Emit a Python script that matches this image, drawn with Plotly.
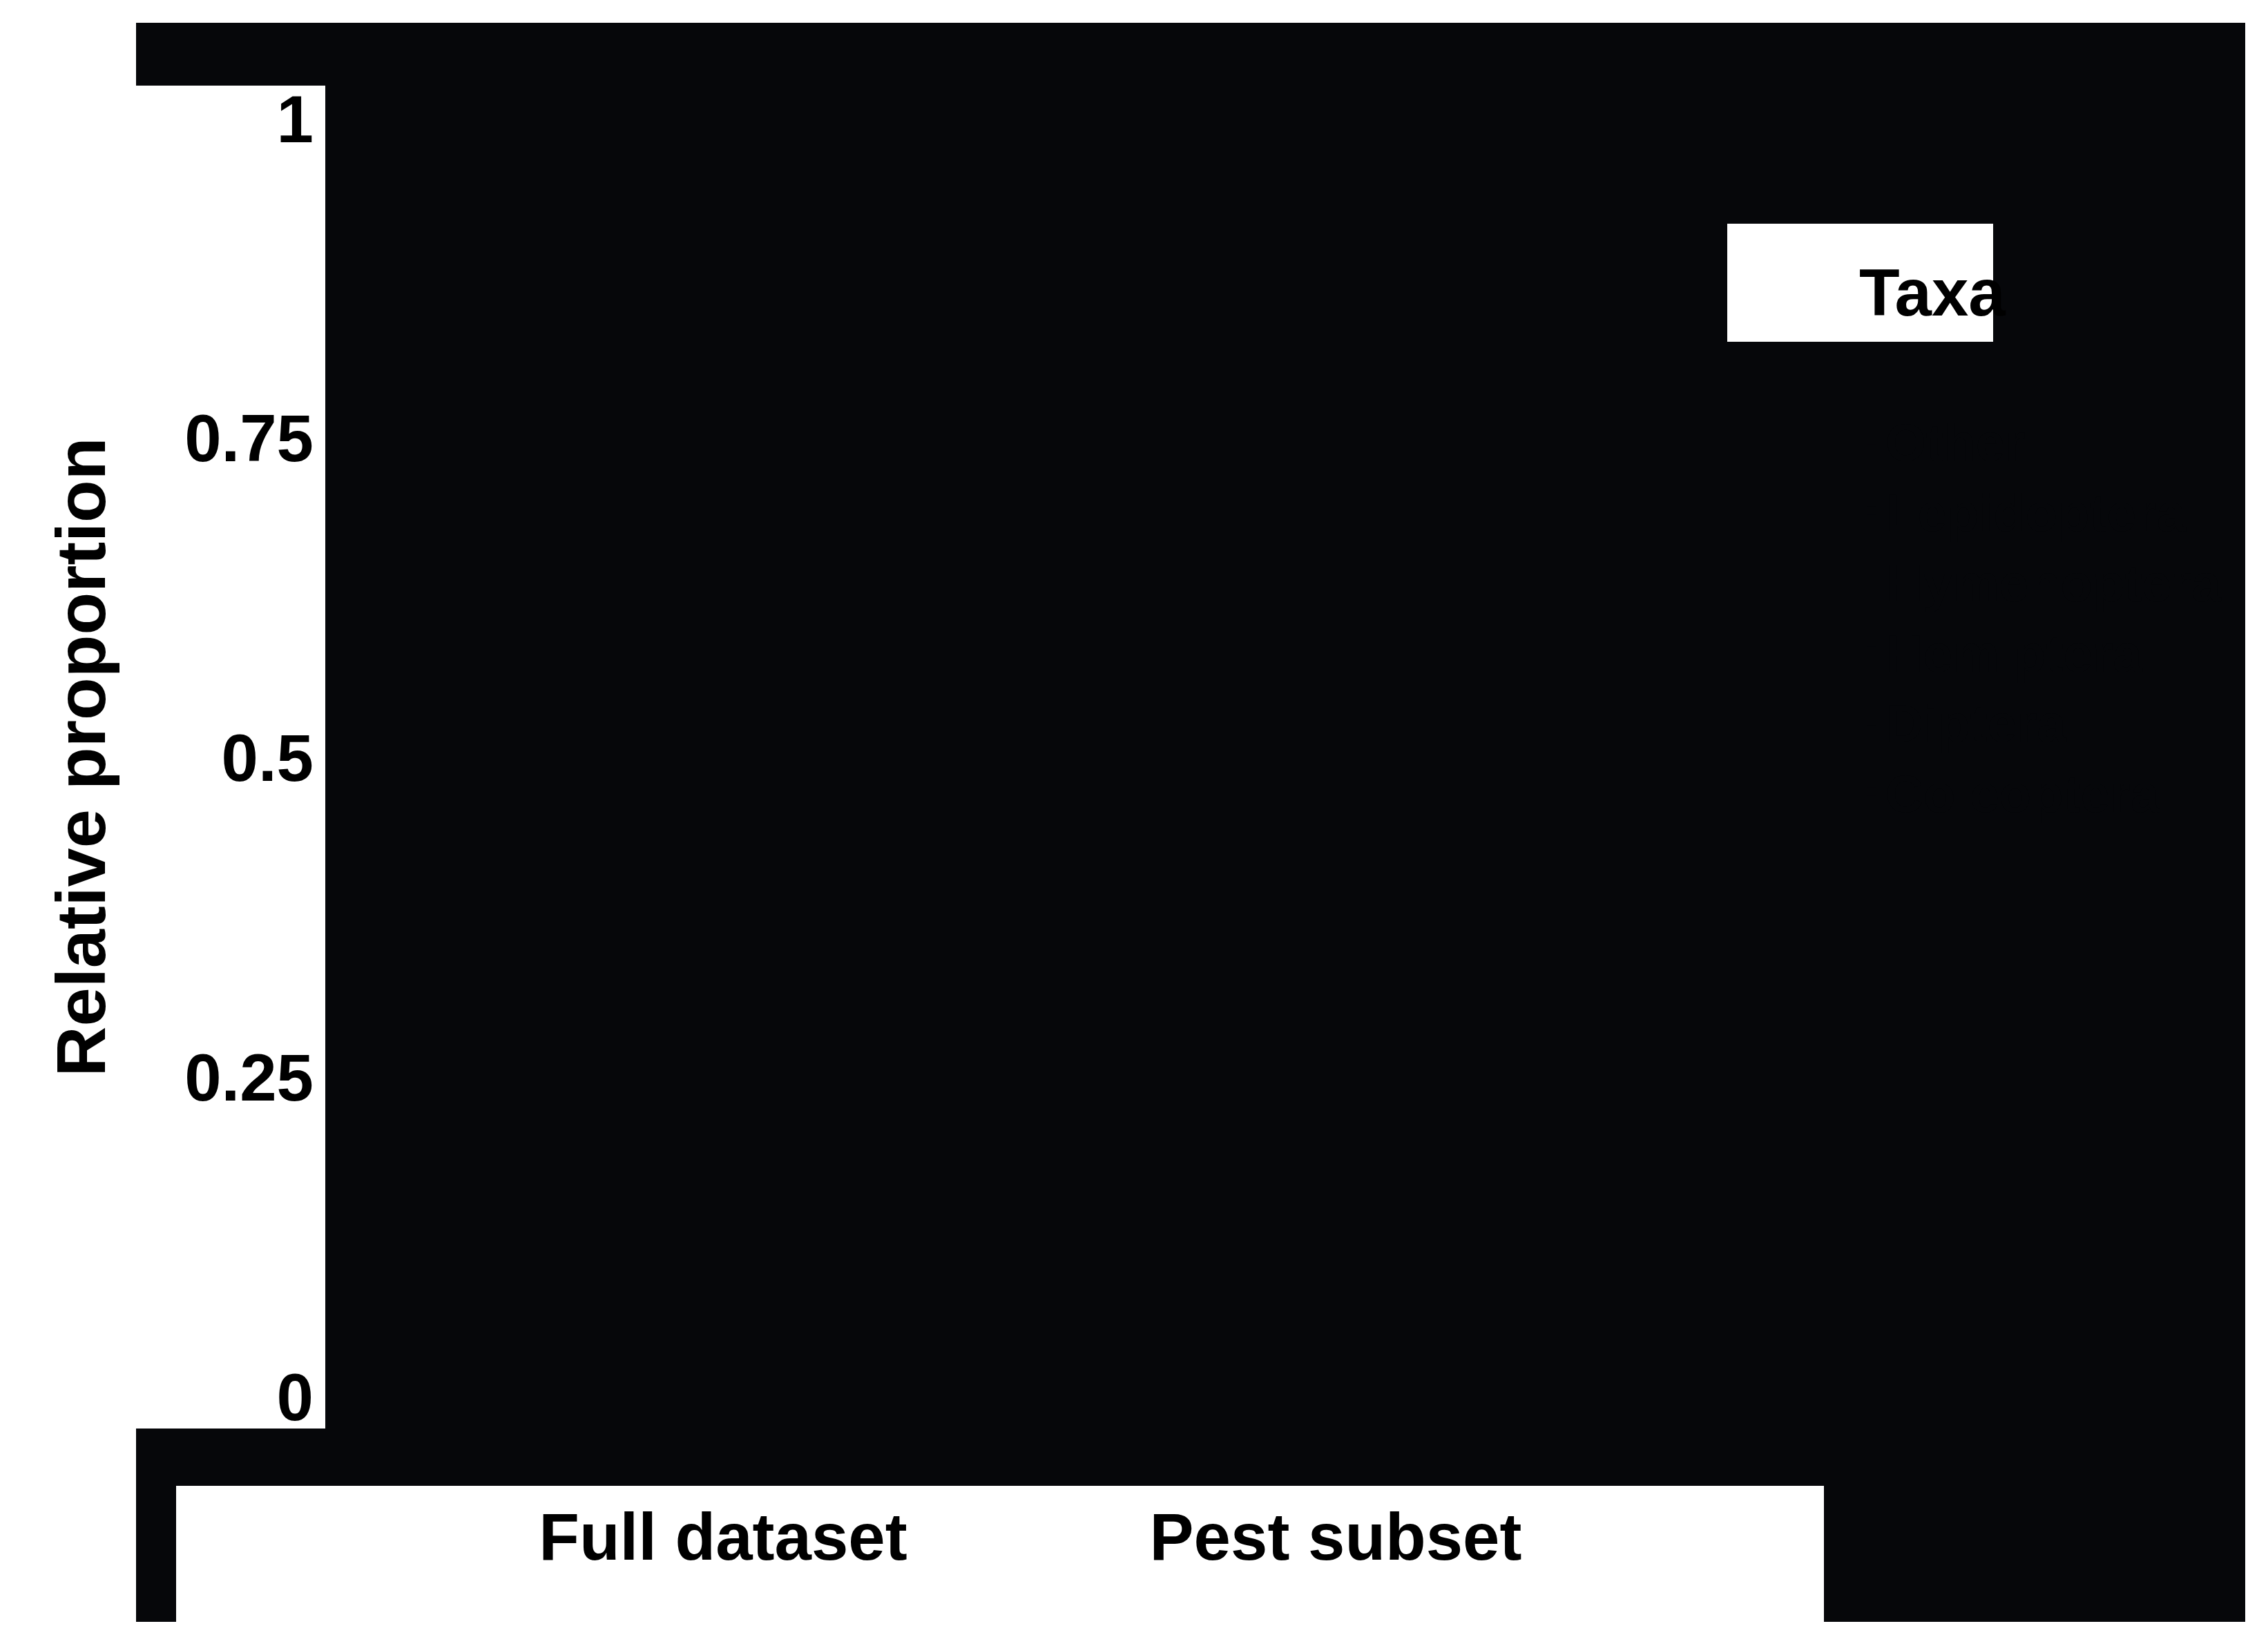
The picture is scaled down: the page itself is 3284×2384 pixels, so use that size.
import plotly.graph_objects as go

# data (bars are drawn in the same near-black as the panel in the source image)
groups = ['Full dataset', 'Pest subset']
taxa = ['Coleoptera', 'Diptera', 'Hemiptera', 'Hymenoptera', 'Lepidoptera', 'Other']
proportions = {
    'Coleoptera': [0.22, 0.18],
    'Diptera': [0.20, 0.12],
    'Hemiptera': [0.18, 0.30],
    'Hymenoptera': [0.15, 0.08],
    'Lepidoptera': [0.15, 0.26],
    'Other': [0.10, 0.06],
}
y_ticks = [0, 0.25, 0.5, 0.75, 1]
y_tick_labels = ['0', '0.25', '0.5', '0.75', '1']

W, H = 3284, 2384
L, R, T, B = 471, 2450, 124, 2069
DARK = '#06070a'

def px(x0, y0, x1, y1, color):
    # convert pixel box to paper coords
    return dict(type='rect', xref='paper', yref='paper', layer='below',
                x0=(x0 - L) / (R - L), x1=(x1 - L) / (R - L),
                y0=(B - y0) / (B - T), y1=(B - y1) / (B - T),
                fillcolor=color, line=dict(width=0))

fig = go.Figure()
for t in taxa:
    fig.add_trace(go.Bar(x=groups, y=proportions[t], name=t,
                         marker=dict(color=DARK, line=dict(width=0)), width=0.9))

font = dict(family='Liberation Sans', color='black', weight='bold')

fig.update_layout(
    width=W, height=H,
    barmode='stack',
    margin=dict(l=L, r=W - R, t=T, b=H - B, autoexpand=False),
    paper_bgcolor='white',
    plot_bgcolor=DARK,
    shapes=[
        px(197, 33, 3251, 2349, DARK),
        px(197, 124, 471, 2069, 'white'),
        px(255, 2152, 2641, 2349, 'white'),
        px(2501, 324, 2886, 495, 'white'),
    ],
    # blank second title line keeps the (dark) legend rows below the white title box
    legend=dict(title=dict(text='Taxa<br> ', font=dict(size=96, **font)),
                font=dict(size=76, family='Liberation Sans', color=DARK, weight='bold'),
                bgcolor='rgba(0,0,0,0)', tracegroupgap=0,
                x=(2690 - L) / (R - L), xanchor='left', y=(B - 332) / (B - T), yanchor='top'),
    showlegend=True,
)
fig.update_xaxes(range=[-(1047 - L) / 887, (R - 1047) / 887], showgrid=False, zeroline=False,
                 showline=False, ticks='', tickfont=dict(size=96, **font), ticklabelstandoff=93)
fig.update_yaxes(range=[-(B - 2023) / 1851, 1 + (172 - T) / 1851], showgrid=False, zeroline=False,
                 showline=False, ticks='', tickvals=y_ticks, ticktext=y_tick_labels,
                 tickfont=dict(size=96, **font), ticklabelstandoff=16,
                 title=dict(text='Relative proportion', font=dict(size=101, **font), standoff=80))

fig.write_html('out.html', config={'displayModeBar': False},
               post_script="document.body.style.margin='0';")
